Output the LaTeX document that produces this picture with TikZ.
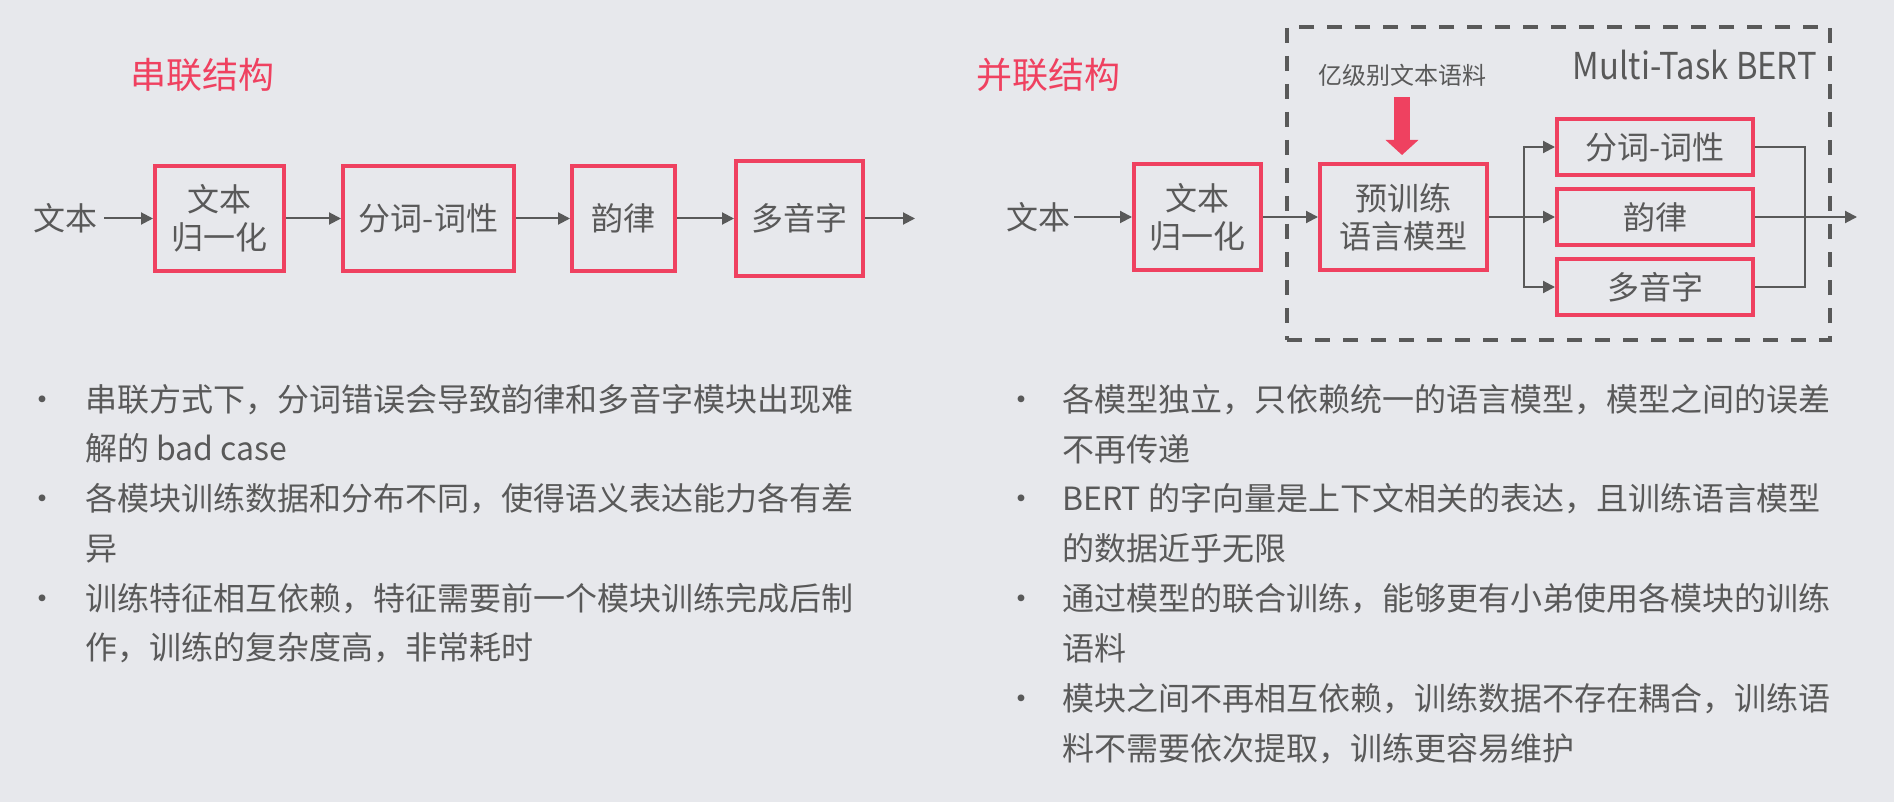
\documentclass[tikz,border=0pt]{standalone}
\usepackage{fontspec}
\usepackage{graphicx}
\newfontfamily\cjk{Noto Sans CJK SC}
\usetikzlibrary{arrows.meta}
\definecolor{bg}{HTML}{E7E8EC}
\definecolor{rd}{HTML}{EF4160}
\definecolor{gy}{HTML}{595959}
\newcommand\zs{\rule[-0.12em]{0pt}{1em}}
\begin{document}
\begin{tikzpicture}[x=1pt,y=-1pt,
  redbox/.style={draw=rd, line width=4pt, inner sep=0pt, font=\cjk\fontsize{32}{38}\selectfont, text=gy, align=center},
  lbl/.style={font=\cjk\fontsize{32}{38}\selectfont, text=gy, inner sep=0pt, anchor=base},
  body/.style={font=\cjk\fontsize{32}{38}\selectfont, text=gy, inner sep=0pt, anchor=base west},
  bul/.style={font=\cjk\fontsize{32}{38}\selectfont, text=gy, inner sep=0pt, anchor=base},
  ttl/.style={font=\cjk\fontsize{36}{40}\selectfont, text=rd, inner sep=0pt, anchor=base},
  conn/.style={draw=gy, line width=2pt, -{Triangle[length=12pt,width=12pt]}},
  wire/.style={draw=gy, line width=2pt},
  frame/.style={draw=gy, line width=4pt, dash pattern=on 15pt off 13pt, inner sep=0pt},
]
\fill[bg] (0,0) rectangle (1894,802);
\useasboundingbox (0,0) rectangle (1894,802);

% ---------- left: serial ----------
\node[ttl] (t1) at (202,89) {串联结构};
\node[lbl] (tL) at (65,231) {文本};
\node[redbox, minimum width=129pt, minimum height=105pt] (B1) at (219.5,218.5) {\zs{}文本\\\zs{}归一化};
\node[redbox, minimum width=171pt, minimum height=105pt] (B2) at (428.5,218.5) {\zs{}分词-词性};
\node[redbox, minimum width=103pt, minimum height=105pt] (B3) at (623.5,218.5) {\zs{}韵律};
\node[redbox, minimum width=127pt, minimum height=114pt] (B4) at (799.5,218.5) {\zs{}多音字};
\coordinate (oL) at (915,218.5);
\draw[conn, shorten <=7pt] (tL.east |- B1.west) -- (B1.west);
\draw[conn] (B1.east) -- (B2.west);
\draw[conn] (B2.east) -- (B3.west);
\draw[conn] (B3.east) -- (B4.west);
\draw[conn] (B4.east) -- (oL);

% ---------- right: parallel ----------
\node[ttl] (t2) at (1048,89) {并联结构};
\node[frame, minimum width=543pt, minimum height=313pt] (fr) at (1558.5,183.5) {};
\node[font=\cjk\fontsize{37}{42}\selectfont, text=gy, anchor=base east, inner sep=0pt] (mt) at (1817,80) {\scalebox{0.886}[1]{Multi-Task BERT}};
\node[font=\cjk\fontsize{24}{28}\selectfont, text=gy, anchor=base, inner sep=0pt] (src) at (1402,85) {亿级别文本语料};
\node[lbl] (tR) at (1038,230) {文本};
\node[redbox, minimum width=127pt, minimum height=105pt] (R1) at (1197.5,217) {\zs{}文本\\\zs{}归一化};
\node[redbox, minimum width=167pt, minimum height=106pt] (R2) at (1403.5,217) {\zs{}预训练\\\zs{}语言模型};
\node[redbox, minimum width=196pt, minimum height=56pt] (S1) at (1655,147) {\zs{}分词-词性};
\node[redbox, minimum width=196pt, minimum height=56pt] (S2) at (1655,217) {\zs{}韵律};
\node[redbox, minimum width=196pt, minimum height=56pt] (S3) at (1655,287) {\zs{}多音字};

\draw[draw=rd, line width=16pt, -{Triangle[length=15pt,width=32pt]}, shorten <=10pt, shorten >=7pt] (src.south) -- (src.south |- R2.north);

\draw[conn, shorten <=4pt] (tR.east |- R1.west) -- (R1.west);
\draw[conn] (R1.east) -- (R2.west);
\coordinate (j) at (1524,217);
\draw[conn] (R2.east) -- (S2.west);
\draw[conn] (j) |- (S1.west);
\draw[conn] (j) |- (S3.west);
\coordinate (m) at (1805,217);
\coordinate (oR) at (1857,217);
\draw[wire] (S1.east) -| (m) |- (S3.east);
\draw[conn] (S2.east) -- (oR);

% ---------- bullets left ----------
\node[bul] (bl1) at (42,411) {•};
\node[bul] (bl3) at (42,510) {•};
\node[bul] (bl5) at (42,610) {•};
\node[body] (l1) at (85,411) {串联方式下，分词错误会导致韵律和多音字模块出现难};
\node[body] (l2) at (85,460) {解的 bad case};
\node[body] (l3) at (85,510) {各模块训练数据和分布不同，使得语义表达能力各有差};
\node[body] (l4) at (85,560) {异};
\node[body] (l5) at (85,610) {训练特征相互依赖，特征需要前一个模块训练完成后制};
\node[body] (l6) at (85,659) {作，训练的复杂度高，非常耗时};

% ---------- bullets right ----------
\node[bul] (br1) at (1021,411) {•};
\node[bul] (br3) at (1021,510) {•};
\node[bul] (br5) at (1021,610) {•};
\node[bul] (br7) at (1021,710) {•};
\node[body] (r1) at (1062,411) {各模型独立，只依赖统一的语言模型，模型之间的误差};
\node[body] (r2) at (1062,461) {不再传递};
\node[body] (r3) at (1062,510) {BERT 的字向量是上下文相关的表达，且训练语言模型};
\node[body] (r4) at (1062,560) {的数据近乎无限};
\node[body] (r5) at (1062,610) {通过模型的联合训练，能够更有小弟使用各模块的训练};
\node[body] (r6) at (1062,660) {语料};
\node[body] (r7) at (1062,710) {模块之间不再相互依赖，训练数据不存在耦合，训练语};
\node[body] (r8) at (1062,760) {料不需要依次提取，训练更容易维护};
\end{tikzpicture}
\end{document}
